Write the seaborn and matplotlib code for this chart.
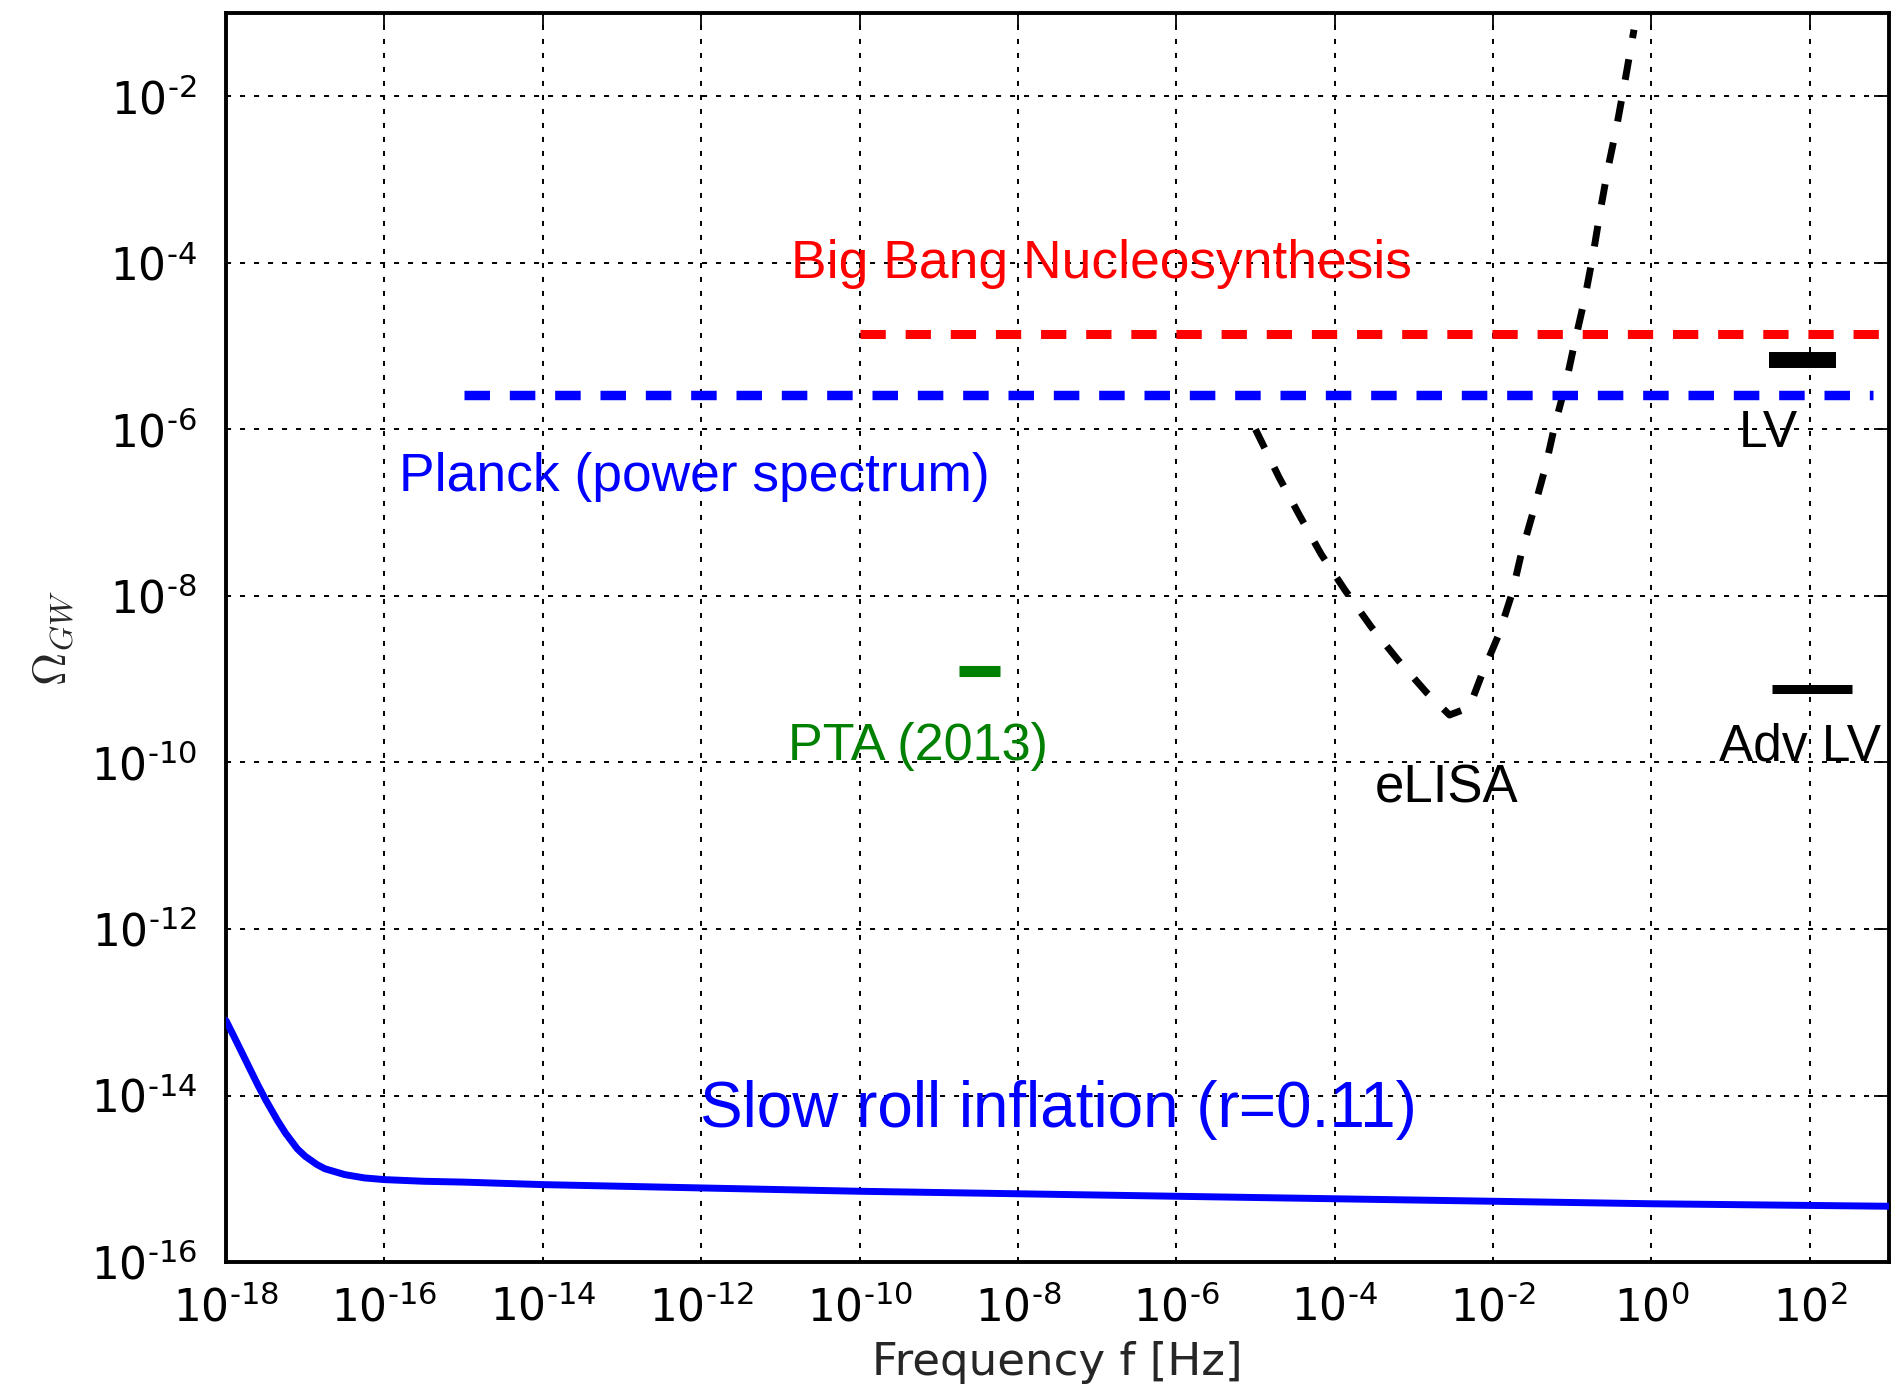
import numpy as np
import pandas as pd
import matplotlib
matplotlib.use("Agg")
import matplotlib.pyplot as plt
from matplotlib.ticker import FixedLocator, FuncFormatter, NullLocator
import seaborn as sns

# ---- data (log10 of frequency in Hz, log10 of Omega_GW) ----
slow_roll_logf = [-18.0, -17.9, -17.75, -17.6, -17.5, -17.35, -17.25, -17.1, -17.0,
                  -16.85, -16.75, -16.5, -16.25, -16.0, -15.5, -15.0, -14.0, -12.0,
                  -10.0, -8.0, -6.0, -4.0, -2.0, 0.0, 2.0, 3.0]
slow_roll_logomega = [-13.10, -13.29, -13.58, -13.87, -14.05, -14.30, -14.45, -14.64, -14.73,
                      -14.83, -14.88, -14.95, -14.99, -15.01, -15.03, -15.04, -15.07, -15.11,
                      -15.15, -15.18, -15.21, -15.24, -15.27, -15.30, -15.32, -15.33]

elisa_logf = [-5.0, -4.70, -4.44, -4.17, -3.87, -3.54, -3.20, -2.84, -2.55, -2.30,
              -2.14, -1.93, -1.76, -1.64, -1.49, -1.34, -1.22, -1.08, -0.97, -0.84,
              -0.74, -0.65, -0.55, -0.44, -0.34, -0.22]
elisa_logomega = [-6.00, -6.58, -7.04, -7.50, -7.93, -8.37, -8.77, -9.16, -9.43, -9.34,
                  -8.94, -8.47, -7.97, -7.48, -6.98, -6.46, -5.95, -5.45, -4.96, -4.42,
                  -3.92, -3.40, -2.87, -2.37, -1.85, -1.20]

bbn_logf = [-10.0, 3.0]
bbn_logomega = [-4.85, -4.85]

planck_logf = [-15.0, 2.8]
planck_logomega = [-5.59, -5.59]

pta_logf = [-8.74, -8.22]
pta_logomega = [-8.90, -8.90]

lv_logf = [1.49, 2.33]
lv_logomega = [-5.17, -5.17]

advlv_logf = [1.52, 2.53]
advlv_logomega = [-9.12, -9.12]

xtick_exponents = [-18, -16, -14, -12, -10, -8, -6, -4, -2, 0, 2]
ytick_exponents = [-16, -14, -12, -10, -8, -6, -4, -2]


def frame(logf, logomega):
    return pd.DataFrame({"f": 10.0 ** np.asarray(logf, dtype=float),
                         "omega": 10.0 ** np.asarray(logomega, dtype=float)})


def power_label(v, pos):
    e = int(round(np.log10(v)))
    sign = r"\text{-}" if e < 0 else ""
    return r"$\mathdefault{10^{%s%d}}$" % (sign, abs(e))


sns.set_style("white")
plt.rcParams["font.family"] = ["DejaVu Sans"]
plt.rcParams["mathtext.fontset"] = "dejavusans"

fig = plt.figure(figsize=(18.96, 13.89), dpi=100)
ax = fig.add_axes([0.1192, 0.0914, 0.8771, 0.8992])
ax.set_xscale("log")
ax.set_yscale("log")

# slow-roll inflation spectrum
sns.lineplot(data=frame(slow_roll_logf, slow_roll_logomega), x="f", y="omega",
             color="#0000ff", lw=5.0, estimator=None, sort=False, ax=ax, zorder=5)
# eLISA sensitivity
sns.lineplot(data=frame(elisa_logf, elisa_logomega), x="f", y="omega",
             color="black", lw=5.0, linestyle=(0, (3.0, 3.1)), estimator=None,
             sort=False, ax=ax, zorder=5)
# Big Bang Nucleosynthesis bound
sns.lineplot(data=frame(bbn_logf, bbn_logomega), x="f", y="omega",
             color="#ff0000", lw=6.5, linestyle=(0, (2.8, 2.2)), estimator=None,
             sort=False, ax=ax, zorder=5)
# Planck bound
sns.lineplot(data=frame(planck_logf, planck_logomega), x="f", y="omega",
             color="#0000ff", lw=6.8, linestyle=(0, (2.7, 2.1)), estimator=None,
             sort=False, ax=ax, zorder=5)
# PTA, LV, Adv LV limits
sns.lineplot(data=frame(pta_logf, pta_logomega), x="f", y="omega",
             color="#008000", lw=8.0, solid_capstyle="butt", estimator=None,
             sort=False, ax=ax, zorder=5)
sns.lineplot(data=frame(lv_logf, lv_logomega), x="f", y="omega",
             color="black", lw=11.5, solid_capstyle="butt", estimator=None,
             sort=False, ax=ax, zorder=5)
sns.lineplot(data=frame(advlv_logf, advlv_logomega), x="f", y="omega",
             color="black", lw=6.5, solid_capstyle="butt", estimator=None,
             sort=False, ax=ax, zorder=5)

ax.set_xlim(1e-18, 1e3)
ax.set_ylim(1e-16, 1e-1)

fmt = FuncFormatter(power_label)
ax.xaxis.set_major_locator(FixedLocator([10.0 ** e for e in xtick_exponents]))
ax.yaxis.set_major_locator(FixedLocator([10.0 ** e for e in ytick_exponents]))
ax.xaxis.set_minor_locator(NullLocator())
ax.yaxis.set_minor_locator(NullLocator())
ax.xaxis.set_major_formatter(fmt)
ax.yaxis.set_major_formatter(fmt)

ax.grid(True, which="major", color="black", lw=1.4, linestyle=(0, (2.6, 4.6)))
ax.set_axisbelow(True)
ax.tick_params(axis="both", which="major", direction="in", length=11, width=1.3,
               labelsize=31.5, top=True, right=True, color="black", labelcolor="black")
ax.tick_params(axis="x", pad=17)
ax.tick_params(axis="y", pad=21)
for side in ax.spines.values():
    side.set_visible(True)
    side.set_color("black")
    side.set_linewidth(2.8)

ax.set_xlabel("Frequency f [Hz]", fontsize=32.5, labelpad=8)
ax.set_ylabel(r"$\Omega_{GW}$", fontsize=33, labelpad=10)
ax.yaxis.label.set_math_fontfamily("cm")

label_font = ["Liberation Sans", "DejaVu Sans"]
ax.text(10 ** -10.86, 10 ** -4.18, "Big Bang Nucleosynthesis", color="#ff0000",
        fontsize=38.4, family=label_font, ha="left", va="baseline", zorder=6)
ax.text(10 ** -15.82, 10 ** -6.734, "Planck (power spectrum)", color="#0000ff",
        fontsize=38.4, family=label_font, ha="left", va="baseline", zorder=6)
ax.text(10 ** -10.90, 10 ** -9.976, "PTA (2013)", color="#008000",
        fontsize=37.6, family=label_font, ha="left", va="baseline", zorder=6)
ax.text(10 ** -12.01, 10 ** -14.378, "Slow roll inflation (r=0.11)", color="#0000ff",
        fontsize=46, family=label_font, ha="left", va="baseline", zorder=6)
ax.text(10 ** -3.50, 10 ** -10.476, "eLISA", color="black",
        fontsize=38, family=label_font, ha="left", va="baseline", zorder=6)
ax.text(10 ** 0.85, 10 ** -9.976, "Adv LV", color="black",
        fontsize=37, family=label_font, ha="left", va="baseline", zorder=6)
ax.text(10 ** 1.10, 10 ** -6.214, "LV", color="black",
        fontsize=37, family=label_font, ha="left", va="baseline", zorder=6)

fig.savefig("out.png", dpi=100)
